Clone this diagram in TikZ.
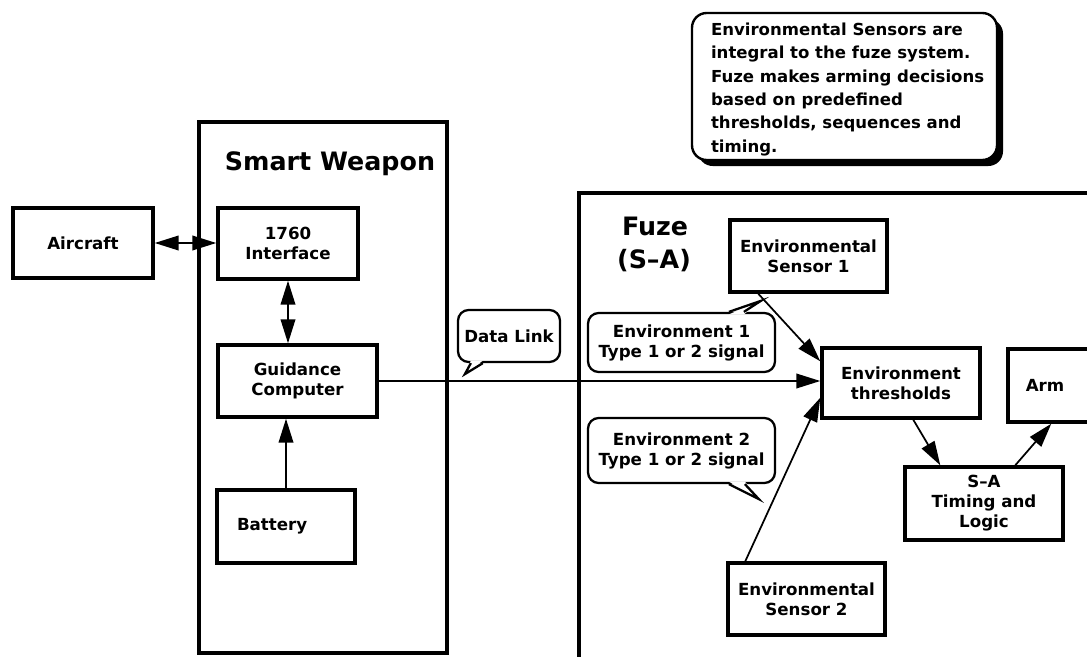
\documentclass[tikz,border=0pt]{standalone}
\usepackage{fontspec}
\setmainfont{DejaVu Sans}
\usetikzlibrary{arrows.meta,calc,shadows}
\begin{document}
\begin{tikzpicture}[x=0.75pt,y=-0.75pt,
  txt/.style={font=\bfseries\fontsize{12.5}{15}\selectfont},
  box/.style={draw, line width=2.6pt, inner sep=0pt, align=center, txt},
  lbl/.style={inner sep=0pt, align=center, txt},
  title/.style={inner sep=0pt, font=\bfseries\fontsize{19}{26}\selectfont},
  container/.style={line width=2.6pt},
  conn/.style={line width=1.3pt},
  callout/.style={draw, line width=1.7pt, rounded corners=8pt, inner sep=0pt, align=center, txt},
  tail/.style={line width=1.7pt, line join=miter},
  notebox/.style={draw, fill=white, line width=1.8pt, rounded corners=11pt, inner sep=0pt},
  >={Triangle[length=18pt,width=11pt]}
]
\clip (0,0) rectangle (1087,656);
\fill[white] (0,0) rectangle (1087,656);

% containers
\draw[container] (199,122) rectangle (447,653);
\node[title, anchor=base] (swtitle) at (330,170) {Smart Weapon};
\draw[container] (579,660) -- (579,193) -- (1095,193);
\node[title, anchor=base] (fuzet) at (655,235) {Fuze};
\node[title, anchor=base] (fuzesa) at (654,268) {(S–A)};

% blocks
\node[box, minimum width=105pt, minimum height=52.5pt] (aircraft) at (83,243) {Aircraft};
\node[box, minimum width=105pt, minimum height=53.25pt] (iface) at (288,243.5) {1760\\Interface};
\node[box, minimum width=119.25pt, minimum height=54pt] (guid) at (297.5,381) {Guidance\\Computer};
\node[box, minimum height=54.75pt, align=left, text width=103.5pt, inner xsep=0pt, inner ysep=0pt] (batt) at (286,526.5) {\hspace*{15pt}Battery};
\node[box, minimum width=117.75pt, minimum height=54pt] (sensor1) at (808.5,256) {Environmental\\Sensor 1};
\node[box, minimum width=118.5pt, minimum height=52.5pt] (thresh) at (901,383) {Environment\\thresholds};
\node[box, minimum width=63pt, minimum height=54.75pt] (arm) at (1050,385.5) {};
\node[lbl] (armt) at (1045,385) {Arm};
\node[box, minimum width=118.5pt, minimum height=54.75pt] (sa) at (984,503.5) {S–A\\Timing and\\Logic};
\node[box, minimum width=117.75pt, minimum height=54pt] (sensor2) at (806.5,599) {Environmental\\Sensor 2};

% callouts
\node[callout, minimum width=76.5pt, minimum height=39pt] (dl) at (509,336) {Data Link};
\fill[white] ($(dl.south west)+(14,-2.5)$) -- ($(dl.south west)+(8,11)$) -- ($(dl.south west)+(26,-2.5)$) -- cycle;
\draw[tail] ($(dl.south west)+(14,0)$) -- ($(dl.south west)+(8,11)$) -- ($(dl.south west)+(26,0)$);

\node[callout, minimum width=140.25pt, minimum height=44.25pt] (env1) at (681.5,342.5) {Environment 1\\Type 1 or 2 signal};
\fill[white] ($(env1.north west)+(142,2.5)$) -- ($(env1.north west)+(174,-11)$) -- ($(env1.north west)+(157,2.5)$) -- cycle;
\draw[tail] ($(env1.north west)+(142,0)$) -- ($(env1.north west)+(174,-11)$) -- ($(env1.north west)+(157,0)$);

\node[callout, minimum width=140.25pt, minimum height=48.75pt] (env2) at (681.5,450.5) {Environment 2\\Type 1 or 2 signal};
\fill[white] ($(env2.south west)+(142,-2.5)$) -- ($(env2.south west)+(172,15)$) -- ($(env2.south west)+(158,-2.5)$) -- cycle;
\draw[tail] ($(env2.south west)+(142,0)$) -- ($(env2.south west)+(172,15)$) -- ($(env2.south west)+(158,0)$);

% note
\node[notebox, minimum width=228.75pt, minimum height=110.25pt,
  drop shadow={shadow xshift=4.5pt, shadow yshift=-4.5pt, opacity=1, fill=black}] (notebox) at (844.5,86.5) {};
\node[lbl, align=left, anchor=west, font=\bfseries\fontsize{12.4}{17.5}\selectfont] (notetext) at ($(notebox.west)+(20,3)$)
  {Environmental Sensors are\\integral to the fuze system.\\Fuze makes arming decisions\\based on predefined\\thresholds, sequences and\\timing.};

% connectors
\draw[conn,<->] (aircraft.east) -- (aircraft.east -| iface.west);
\draw[conn,<->] (iface.south) -- (iface.south |- guid.north);
\draw[conn,->] (batt.north) -- (batt.north |- guid.south);
\draw[conn,->] (guid.east) -- (guid.east -| thresh.west);
\draw[conn,->] ($(sensor1.south west)+(30,0)$) -- ($(thresh.north west)+(0,15)$);
\draw[conn,->] ($(sensor2.north west)+(19,0)$) -- ($(thresh.south west)+(0,-22)$);
\draw[conn,->] ($(thresh.south west)+(93,0)$) -- ($(sa.north west)+(37,0)$);
\draw[conn,->] ($(sa.north west)+(112,0)$) -- ($(arm.south west)+(45,0)$);
\end{tikzpicture}
\end{document}
